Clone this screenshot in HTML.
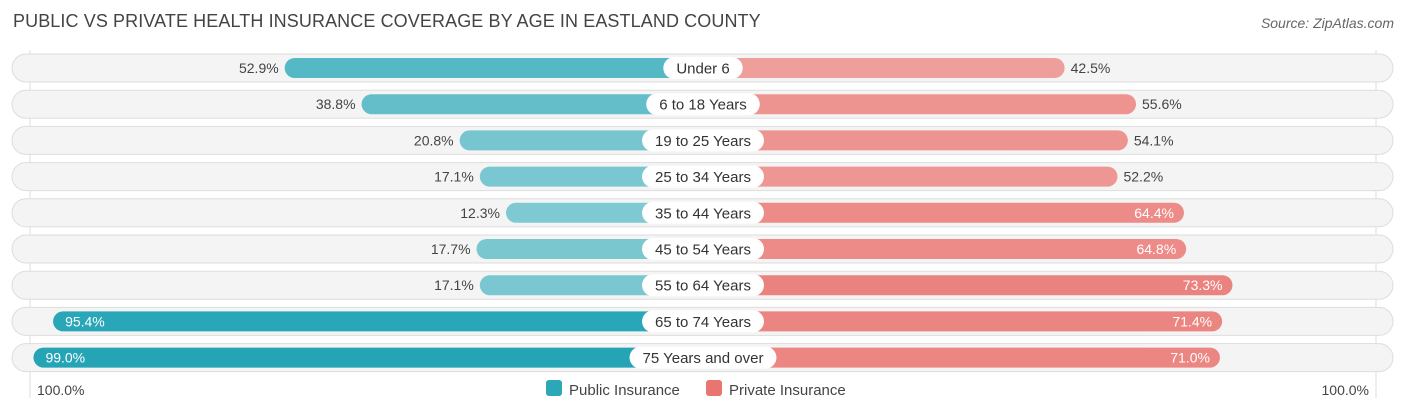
<!DOCTYPE html>
<html><head><meta charset="utf-8"><style>
body{margin:0;background:#fff;font-family:"Liberation Sans",sans-serif;}
#wrap{position:relative;width:1406px;height:414px;overflow:hidden}
.title{position:absolute;left:13px;top:11px;font-size:18px;color:#444;letter-spacing:0.1px}
.src{position:absolute;right:12px;top:15px;font-size:14px;color:#666;font-style:italic}
</style></head><body>
<div id="wrap">
<div class="title">PUBLIC VS PRIVATE HEALTH INSURANCE COVERAGE BY AGE IN EASTLAND COUNTY</div>
<div class="src">Source: ZipAtlas.com</div>
<svg id="svg" width="1406" height="414" style="position:absolute;left:0;top:0"></svg>
</div>
<script>
const categories=["Under 6","6 to 18 Years","19 to 25 Years","25 to 34 Years","35 to 44 Years","45 to 54 Years","55 to 64 Years","65 to 74 Years","75 Years and over"];
const publicVals=[52.9,38.8,20.8,17.1,12.3,17.7,17.1,95.4,99.0];
const privateVals=[42.5,55.6,54.1,52.2,64.4,64.8,73.3,71.4,71.0];
const axisLabels=["100.0%","100.0%"];
const cx=703, y0=68, dy=36.2;
function w(v){return 130+5.45*v;}
function lerp(a,b,t){return a.map((x,i)=>Math.round(x+(b[i]-x)*t));}
function col(v,lo,hi){const t=Math.max(0,Math.min(1,v/100));const c=lerp(lo,hi,t);return `rgb(${c})`;}
const NS="http://www.w3.org/2000/svg";const svg=document.getElementById('svg');
function mk(t,a,p){const e=document.createElementNS(NS,t);for(const k in a)e.setAttribute(k,a[k]);(p||svg).appendChild(e);return e;}
let g=mk('line',{x1:30,x2:30,y1:50,y2:398,stroke:'#ddd','stroke-width':1});

g=mk('line',{x1:1376,x2:1376,y1:50,y2:398,stroke:'#ddd','stroke-width':1});

categories.forEach((c,i)=>{
  const y=y0+i*dy;
  const bg=mk('rect',{x:12,y:y-14,width:1381,height:28,rx:14,fill:'#f4f4f4',stroke:'#ddd','stroke-width':1});
  
  const pv=publicVals[i],qv=privateVals[i];
  const pw=w(pv),qw=w(qv);
  const pb=mk('rect',{x:cx-pw,y:y-10,width:pw,height:20,rx:10,fill:col(pv,[140,206,214],[36,164,182])});
  
  const qb=mk('rect',{x:cx,y:y-10,width:qw,height:20,rx:10,fill:col(qv,[246,196,193],[230,108,104])});
  
  const pin=pv>80, qin=qv>60;
  const pt=mk('text',{x:pin?cx-pw+12:cx-pw-6,y:y+5,'font-size':14,fill:pin?'#fff':'#444','text-anchor':pin?'start':'end'});
  pt.textContent=pv.toFixed(1)+'%';
  const qt=mk('text',{x:qin?cx+qw-10:cx+qw+6,y:y+5,'font-size':14,fill:qin?'#fff':'#444','text-anchor':qin?'end':'start'});
  qt.textContent=qv.toFixed(1)+'%';
  const lt=mk('text',{x:cx,y:y+5.5,'font-size':15,fill:'#333','text-anchor':'middle'});lt.textContent=c;
  const bw=lt.getComputedTextLength()+26;
  const lb=mk('rect',{x:cx-bw/2,y:y-11,width:bw,height:22,rx:11,fill:'#fff'});
  svg.insertBefore(lb,lt);
  
  
});
let t=mk('text',{x:37,y:395,'font-size':14,fill:'#444'});t.textContent=axisLabels[0];

t=mk('text',{x:1369,y:395,'font-size':14,fill:'#444','text-anchor':'end'});t.textContent=axisLabels[1];

let r=mk('rect',{x:546,y:380,width:16,height:16,rx:3,fill:'#2aa8b8'});

t=mk('text',{x:569,y:395,'font-size':15,fill:'#444'});t.textContent='Public Insurance';

r=mk('rect',{x:706,y:380,width:16,height:16,rx:3,fill:'#e8756f'});

t=mk('text',{x:729,y:395,'font-size':15,fill:'#444'});t.textContent='Private Insurance';

</script>
</body></html>
